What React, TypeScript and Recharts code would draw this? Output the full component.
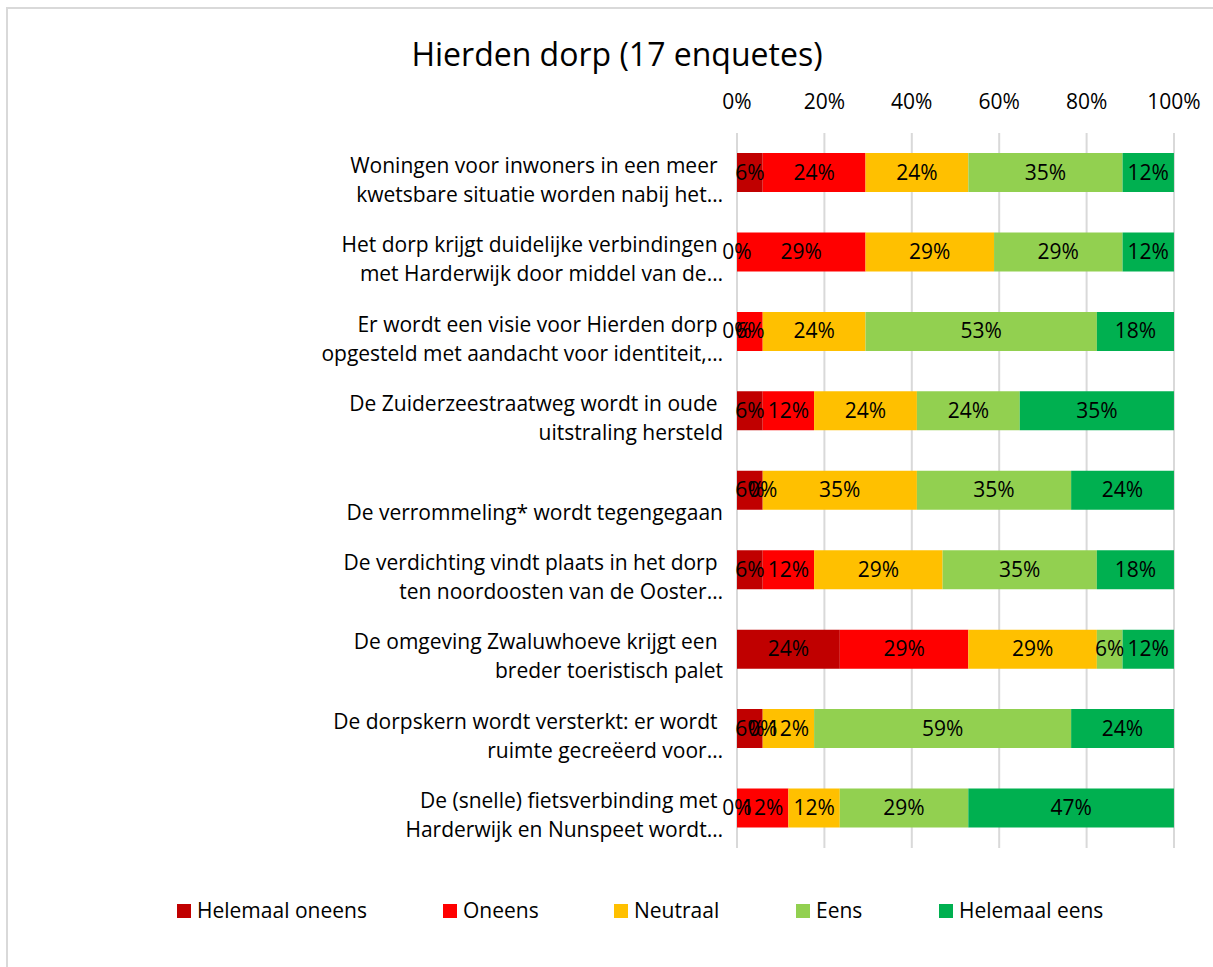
import React from "react";
import { Bar, BarChart, CartesianGrid, XAxis, YAxis } from "recharts";

// categories, lines split with "\n" (first empty line = label sits lower, like the source)
const categories = [
  "Woningen voor inwoners in een meer \nkwetsbare situatie worden nabij het…",
  "Het dorp krijgt duidelijke verbindingen \nmet Harderwijk door middel van de…",
  "Er wordt een visie voor Hierden dorp \nopgesteld met aandacht voor identiteit,…",
  "De Zuiderzeestraatweg wordt in oude \nuitstraling hersteld",
  "\nDe verrommeling* wordt tegengegaan",
  "De verdichting vindt plaats in het dorp \nten noordoosten van de Ooster…",
  "De omgeving Zwaluwhoeve krijgt een \nbreder toeristisch palet",
  "De dorpskern wordt versterkt: er wordt \nruimte gecreëerd voor…",
  "De (snelle) fietsverbinding met \nHarderwijk en Nunspeet wordt…",
];

// percentages (17 enquetes)
const helemaalOneens = [5.88, 0, 0, 5.88, 5.88, 5.88, 23.53, 5.88, 0];
const oneens = [23.53, 29.41, 5.88, 11.76, 0, 11.76, 29.41, 0, 11.76];
const neutraal = [23.53, 29.41, 23.53, 23.53, 35.29, 29.41, 29.41, 11.76, 11.76];
const eens = [35.29, 29.41, 52.94, 23.53, 35.29, 35.29, 5.88, 58.82, 29.41];
const helemaalEens = [11.76, 11.76, 17.65, 35.29, 23.53, 17.65, 11.76, 23.53, 47.06];

const xTicks = [0, 20, 40, 60, 80, 100];

const series = [
  { key: "ho", name: "Helemaal oneens", color: "#C00000", values: helemaalOneens },
  { key: "o", name: "Oneens", color: "#FF0000", values: oneens },
  { key: "n", name: "Neutraal", color: "#FFC000", values: neutraal },
  { key: "e", name: "Eens", color: "#92D050", values: eens },
  { key: "he", name: "Helemaal eens", color: "#00B050", values: helemaalEens },
];

const data = categories.map((name, i) => {
  const row: Record<string, number | string> = { name };
  series.forEach((s) => (row[s.key] = s.values[i]));
  return row;
});

const FONT = "'Open Sans', sans-serif";
const FS = 21;
const legendX = [177, 443, 614, 796, 939];

const YTick = (props: any) => {
  const { x, y, payload } = props;
  const lines = String(payload.value).split("\n");
  return (
    <text
      x={x}
      y={y}
      textAnchor="end"
      fontFamily={FONT}
      fontSize={FS}
      fill="#000"
      style={{ whiteSpace: "pre" }}
    >
      {lines.map((l, i) => (
        <tspan key={i} x={x} dy={i === 0 ? 0 : 29}>
          {l}
        </tspan>
      ))}
    </text>
  );
};

const XTick = (props: any) => {
  const { x, y, payload } = props;
  return (
    <text x={x} y={y} textAnchor="middle" fontFamily={FONT} fontSize={FS} fill="#000">
      {payload.value}%
    </text>
  );
};

// text only, drawn in an overlay chart so every label sits above all bars (also 0%)
const makeLabelShape = (key: string) => (props: any) => {
  const { x, y, width, height, payload } = props;
  const v = Number(payload[key]);
  return (
    <text
      x={x + width / 2}
      y={y + height / 2 + 7}
      textAnchor="middle"
      fontFamily={FONT}
      fontSize={FS}
      fill="#000"
    >
      {Math.round(v)}%
    </text>
  );
};

function Chart({ labels }: { labels: boolean }) {
  return (
    <BarChart
      width={1213}
      height={967}
      data={data}
      layout="vertical"
      margin={{ top: 103, right: 39, bottom: 119, left: 0 }}
      barSize={39}
    >
      {!labels && <CartesianGrid horizontal={false} stroke="#D9D9D9" strokeWidth={2} />}
      <XAxis
        type="number"
        orientation="top"
        domain={[0, 100]}
        ticks={xTicks}
        height={30}
        axisLine={false}
        tickLine={false}
        tickSize={0}
        tickMargin={24}
        tick={labels ? false : <XTick />}
        interval={0}
      />
      <YAxis
        type="category"
        dataKey="name"
        width={737}
        axisLine={false}
        tickLine={false}
        tickSize={0}
        tickMargin={14}
        tick={labels ? false : <YTick />}
        interval={0}
      />
      {series.map((s) => (
        <Bar
          key={s.key}
          dataKey={s.key}
          name={s.name}
          stackId="a"
          fill={labels ? "none" : s.color}
          shape={labels ? makeLabelShape(s.key) : undefined}
          isAnimationActive={false}
        />
      ))}
    </BarChart>
  );
}

export default function App() {
  return (
    <div style={{ position: "absolute", left: 0, top: 0, width: 1213, height: 967, background: "#fff" }}>
      <div
        style={{
          position: "absolute",
          left: 6,
          top: 7,
          width: 1213,
          height: 967,
          borderLeft: "2px solid #D9D9D9",
          borderTop: "2px solid #D9D9D9",
        }}
      />
      <div style={{ position: "absolute", left: 0, top: 0 }}>
        <Chart labels={false} />
      </div>
      <div style={{ position: "absolute", left: 0, top: 0, pointerEvents: "none" }}>
        <Chart labels={true} />
      </div>
      <svg
        width={1213}
        height={967}
        style={{ position: "absolute", left: 0, top: 0, pointerEvents: "none" }}
      >
        <text x={617} y={66} textAnchor="middle" fontFamily={FONT} fontSize={32} fill="#000">
          Hierden dorp (17 enquetes)
        </text>
        {series.map((s, i) => (
          <g key={s.key}>
            <rect x={legendX[i]} y={904} width={14} height={14} fill={s.color} />
            <text x={legendX[i] + 20} y={918} fontFamily={FONT} fontSize={FS} fill="#000">
              {s.name}
            </text>
          </g>
        ))}
      </svg>
    </div>
  );
}
